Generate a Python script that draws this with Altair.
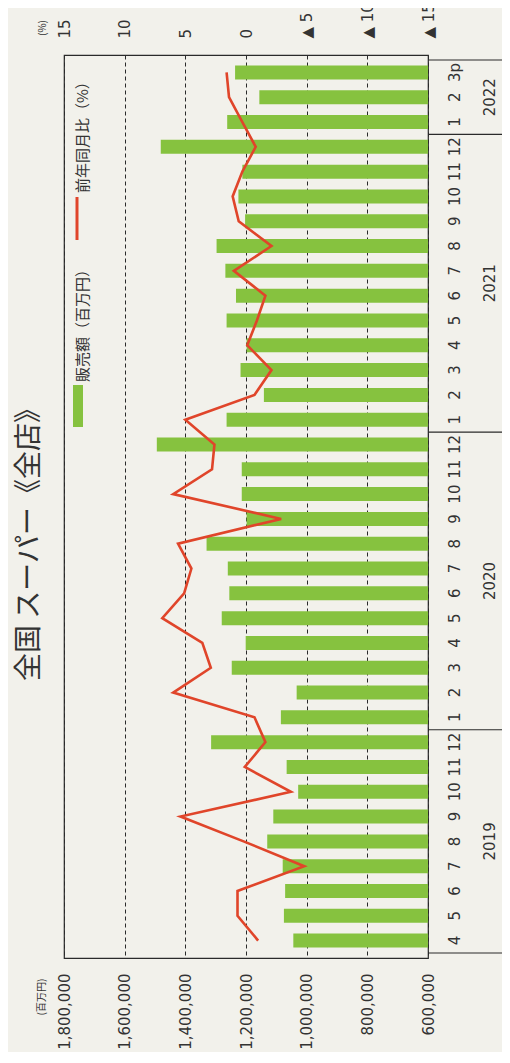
import altair as alt
import pandas as pd

# ---- data ----
months = ["4", "5", "6", "7", "8", "9", "10", "11", "12",
          "1", "2", "3", "4", "5", "6", "7", "8", "9", "10", "11", "12",
          "1", "2", "3", "4", "5", "6", "7", "8", "9", "10", "11", "12",
          "1", "2", "3p"]
sales = [1044000, 1075000, 1071000, 1079000, 1130000, 1110000, 1028000, 1066000, 1315000,
         1085000, 1033000, 1247000, 1201000, 1280000, 1255000, 1260000, 1330000, 1198000, 1214000, 1214000, 1494000,
         1264000, 1141000, 1218000, 1198000, 1264000, 1233000, 1268000, 1297000, 1203000, 1225000, 1212000, 1481000,
         1262000, 1156000, 1236000]
yoy = [-1.0, 0.7, 0.7, -4.8, 0.2, 5.4, -3.7, 0.1, -1.6,
       -0.7, 6.0, 2.9, 3.6, 6.9, 5.1, 4.5, 5.6, -2.9, 6.0, 2.8, 2.6,
       5.0, -0.7, -2.1, -0.1, -0.9, -1.6, 1.0, -2.1, 0.6, 1.1, 0.3, -0.8,
       0.3, 1.4, 1.6]
years = ["2019", "2020", "2021", "2022"]
year_counts = [9, 12, 12, 3]
sales_ticks = [600000, 800000, 1000000, 1200000, 1400000, 1600000, 1800000]
pct_ticks = [15, 10, 5, 0, -5, -10, -15]

title_text = "全国 スーパー《全店》"
legend_sales = "販売額（百万円）"
legend_yoy = "前年同月比（%）"
unit_left = "(百万円)"
unit_right = "(%)"

GREEN = "#86c23f"
RED = "#e0452a"
INK = "#2a2a2a"
JP = "Noto Sans CJK JP"
NUM = "DejaVu Sans"

n = len(months)
df = pd.DataFrame({"idx": list(range(n)), "month": months, "sales": sales, "yoy": yoy})

centers, bounds = [], [-0.5]
start = 0
for c in year_counts:
    centers.append(start + (c - 1) / 2)
    start += c
    bounds.append(start - 0.5)
df_years = pd.DataFrame({"idx": centers, "year": years})
df_bounds = pd.DataFrame({"idx": bounds})
dummy = pd.DataFrame({"k": [0]})

W, H = 364, 903

yenc = alt.Y("idx:Q", scale=alt.Scale(domain=[-0.5, n - 0.5], nice=False, zero=False), axis=None)

bars = alt.Chart(df).mark_bar(orient="horizontal", size=14, color=GREEN).encode(
    x=alt.X("sales:Q",
            scale=alt.Scale(domain=[600000, 1800000], reverse=True, nice=False, zero=False),
            axis=alt.Axis(orient="bottom", values=sales_ticks,
                          labelExpr="format(datum.value, ',')", labelAngle=270,
                          labelAlign="right", labelBaseline="middle", labelPadding=15,
                          ticks=False, domain=False, grid=True, gridDash=[4, 3],
                          gridColor=INK, gridWidth=1, labelFont=NUM, labelFontSize=15,
                          labelColor="#333", title=None, labelOverlap=False,
                          labelFlush=False, labelBound=False)),
    x2=alt.datum(600000),
    y=yenc,
)

line = alt.Chart(df).mark_line(color=RED, strokeWidth=2.6).encode(
    x=alt.X("yoy:Q",
            scale=alt.Scale(domain=[-15, 15], reverse=True, nice=False, zero=False),
            axis=alt.Axis(orient="top", values=pct_ticks,
                          labelExpr="datum.value < 0 ? '▲ ' + (-datum.value) : '' + datum.value",
                          labelAngle=270, labelAlign="left", labelBaseline="middle",
                          labelPadding=17, ticks=False, domain=False, grid=False,
                          labelFont=NUM, labelFontSize=15, labelColor="#333", title=None,
                          labelOverlap=False, labelFlush=False, labelBound=False)),
    y=yenc,
    order=alt.Order("idx:Q"),
)

month_labels = alt.Chart(df).mark_text(angle=270, font=NUM, fontSize=15, color="#333",
                                       align="center", baseline="middle").encode(
    y=yenc, x=alt.value(391), text="month:N")

year_labels = alt.Chart(df_years).mark_text(angle=270, font=NUM, fontSize=15, color="#333",
                                            align="center", baseline="middle").encode(
    y=yenc, x=alt.value(426), text="year:N")

seps = alt.Chart(df_bounds).mark_rule(color=INK, strokeWidth=1.2).encode(
    y=yenc, x=alt.value(W), x2=alt.value(438))

leg_rect = alt.Chart(dummy).mark_rect(color=GREEN).encode(
    x=alt.value(9), x2=alt.value(19), y=alt.value(330), y2=alt.value(372))
leg_line = alt.Chart(dummy).mark_rule(color=RED, strokeWidth=3).encode(
    x=alt.value(13), y=alt.value(142), y2=alt.value(185))
leg_t1 = alt.Chart(dummy).mark_text(angle=270, align="left", baseline="middle", font=JP,
                                    fontSize=15, color="#333").encode(
    x=alt.value(19), y=alt.value(327), text=alt.value(legend_sales))
leg_t2 = alt.Chart(dummy).mark_text(angle=270, align="left", baseline="middle", font=JP,
                                    fontSize=15, color="#333").encode(
    x=alt.value(19), y=alt.value(138), text=alt.value(legend_yoy))

title = alt.Chart(dummy).mark_text(angle=270, align="center", baseline="middle", font=JP,
                                   fontSize=28, color="#333").encode(
    x=alt.value(-34), y=alt.value(483), text=alt.value(title_text))
u_left = alt.Chart(dummy).mark_text(angle=270, align="center", baseline="middle", font=JP,
                                    fontSize=10, color="#333").encode(
    x=alt.value(-22), y=alt.value(942), text=alt.value(unit_left))
u_right = alt.Chart(dummy).mark_text(angle=270, align="center", baseline="middle", font=JP,
                                     fontSize=10, color="#333").encode(
    x=alt.value(-21), y=alt.value(-27), text=alt.value(unit_right))

chart = alt.layer(
    bars, line, month_labels, year_labels, seps,
    leg_rect, leg_line, leg_t1, leg_t2, title, u_left, u_right
).resolve_scale(x="independent").properties(
    width=W, height=H,
    autosize=alt.AutoSizeParams(type="none"),
    padding={"left": 56, "top": 47, "right": 74, "bottom": 94},
    background="#f2f1eb",
).configure_view(stroke=INK, strokeWidth=1.2)

chart.save("out.html", embed_options={"renderer": "svg", "actions": False})
